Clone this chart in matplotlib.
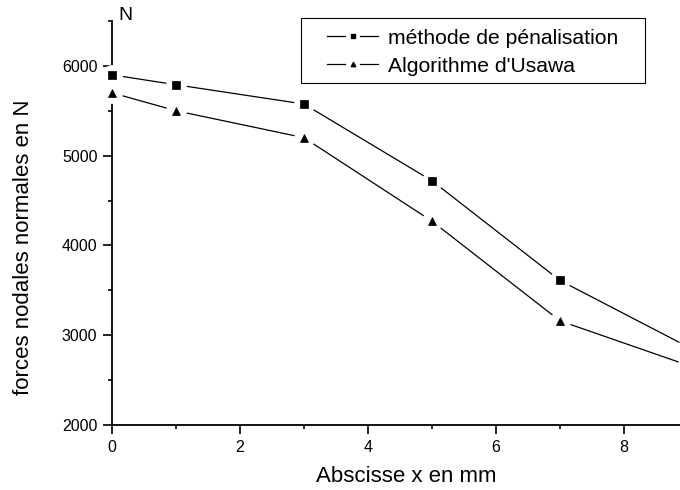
import matplotlib
matplotlib.use("Agg")
import matplotlib.pyplot as plt
from matplotlib.lines import Line2D
from matplotlib.patches import Rectangle
from matplotlib.ticker import MultipleLocator

plt.rcParams['font.family'] = ['Liberation Sans', 'DejaVu Sans']

x_pen = [0, 1, 3, 5, 7, 9]
y_pen = [5900, 5790, 5575, 4720, 3610, 2870]
x_usa = [0, 1, 3, 5, 7, 9]
y_usa = [5700, 5500, 5200, 4270, 3160, 2665]
labels = ["méthode de pénalisation", "Algorithme d'Usawa"]
markers = ['s', '^']

W, H = 680, 490
fig = plt.figure(figsize=(6.8, 4.9), dpi=100)
ax = fig.add_axes([112/W, 1-425/H, 1-112/W, (425-21)/H])

for xs, ys, m in [(x_pen, y_pen, markers[0]), (x_usa, y_usa, markers[1])]:
    ax.plot(xs, ys, color='black', lw=0.9, zorder=2)
    ax.plot(xs, ys, ls='none', marker='o', ms=15, mfc='white', mec='none',
            zorder=3, clip_on=False)
    ax.plot(xs, ys, ls='none', marker=m, ms=5.2 if m == 's' else 5.8,
            mfc='black', mec='black', mew=0.5, zorder=4, clip_on=False)

ax.set_xlim(0, 8.875)
ax.set_ylim(2000, 6500)
ax.xaxis.set_major_locator(MultipleLocator(2))
ax.xaxis.set_minor_locator(MultipleLocator(1))
ax.yaxis.set_major_locator(MultipleLocator(1000))
ax.yaxis.set_minor_locator(MultipleLocator(500))
ax.spines['top'].set_visible(False)
ax.spines['right'].set_visible(False)
for s in ('left', 'bottom'):
    ax.spines[s].set_linewidth(1.3)
ax.tick_params(which='major', direction='out', length=6.5, width=1.2, labelsize=11.5, pad=4)
ax.tick_params(which='minor', direction='out', length=3, width=1.2)
ax.set_xlabel("Abscisse x en mm", fontsize=16)
ax.set_ylabel("forces nodales normales en N", fontsize=16)
ax.xaxis.set_label_coords(406/W, 1-466/H, transform=fig.transFigure)
ax.yaxis.set_label_coords(34/W, 1-247/H, transform=fig.transFigure)
fig.text(118/W, 1-15/H, "N", fontsize=14, ha='left', va='center')

# legend drawn manually in figure pixel coordinates
def fx(px):
    return px / W

def fy(py):
    return 1 - py / H

fig.patches.append(Rectangle((fx(300.5), fy(83)), fx(645) - fx(300.5), fy(18) - fy(83),
                             transform=fig.transFigure, fill=False, edgecolor='black',
                             linewidth=0.8, zorder=5))
for i, (lab, m) in enumerate(zip(labels, markers)):
    yy = fy(36 + i * 28)
    fig.add_artist(Line2D([fx(327), fx(345)], [yy, yy], color='black', lw=0.9,
                          transform=fig.transFigure))
    fig.add_artist(Line2D([fx(360), fx(378)], [yy, yy], color='black', lw=0.9,
                          transform=fig.transFigure))
    fig.add_artist(Line2D([fx(353)], [yy], ls='none', marker=m, ms=3.2, mfc='black',
                          mec='black', transform=fig.transFigure))
    fig.text(fx(388), yy, lab, fontsize=15.2, ha='left', va='center_baseline')

fig.savefig("out.png", dpi=100)
